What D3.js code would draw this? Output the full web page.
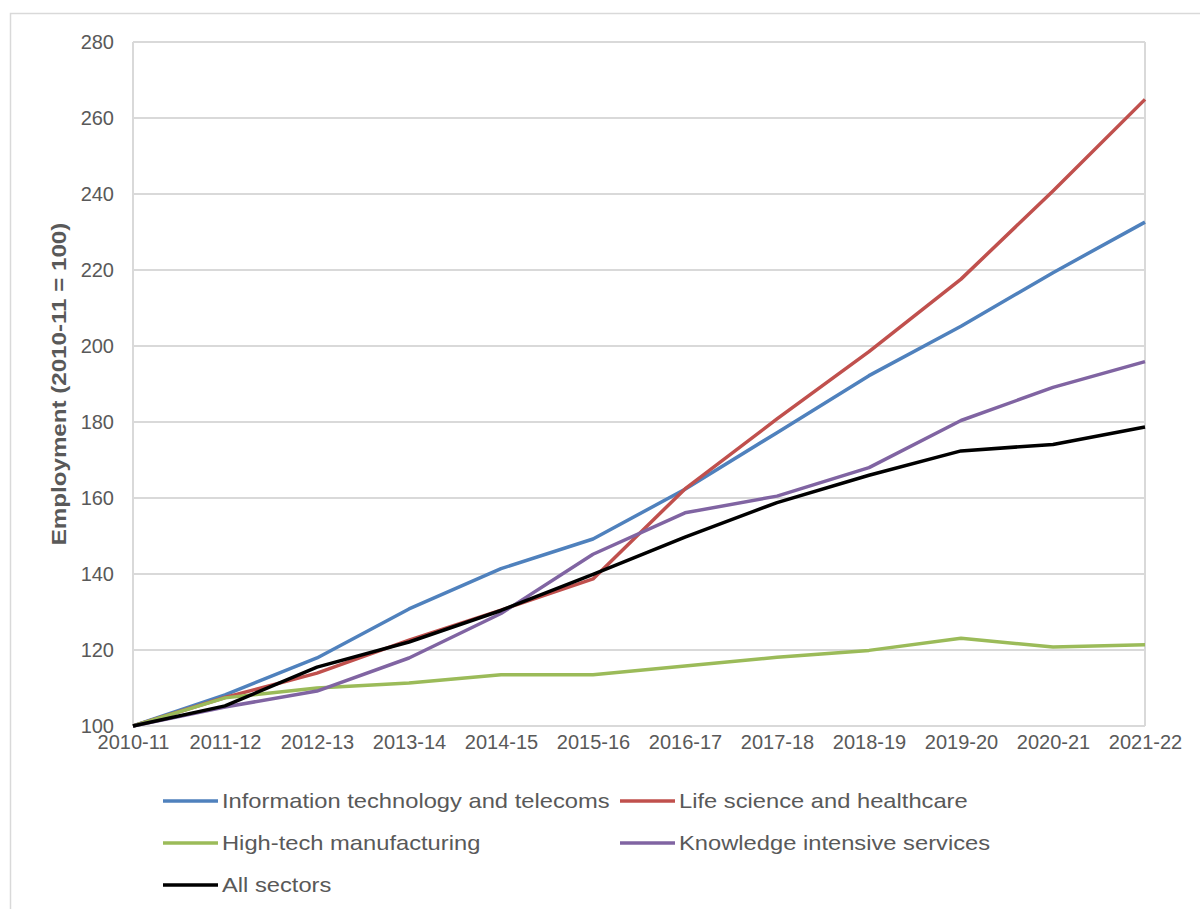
<!DOCTYPE html>
<html>
<head>
<meta charset="utf-8">
<script src="https://cdn.jsdelivr.net/npm/d3@7"></script>
<style>
  body { margin: 0; background: #fff; }
  text { font-family: Arial, "Liberation Sans", sans-serif; }
</style>
</head>
<body>
<div id="chart-area"></div>
<script>
// data
const years = ['2010-11','2011-12','2012-13','2013-14','2014-15','2015-16',
               '2016-17','2017-18','2018-19','2019-20','2020-21','2021-22']
const itTelecoms = [100,108.2,117.9,130.8,141.4,149.2,162.3,177.2,192.2,205.2,219.3,232.6]
const lifeScience = [100,107.5,113.9,122.6,130.5,138.7,162.4,180.8,198.5,217.6,240.8,264.9]
const highTech = [100,107.4,110,111.3,113.5,113.5,115.8,118.1,119.9,123.1,120.8,121.4]
const knowledge = [100,105,109.2,117.9,129.6,145.2,156.1,160.5,168,180.4,189.1,195.9]
const allSectors = [100,105.3,115.5,122.1,130.4,139.9,149.7,158.8,166,172.4,174.1,178.7]
const yTicks = [100,120,140,160,180,200,220,240,260,280]

const series = [
    {name:'Information technology and telecoms', values:itTelecoms, color:'#4F81BD'},
    {name:'Life science and healthcare', values:lifeScience, color:'#C0504D'},
    {name:'High-tech manufacturing', values:highTech, color:'#9BBB59'},
    {name:'Knowledge intensive services', values:knowledge, color:'#8064A2'},
    {name:'All sectors', values:allSectors, color:'#000000'}
]

const MARGIN = {LEFT:133, RIGHT:55, TOP:42, BOTTOM:183}
const W = 1200, H = 909
const WIDTH = W - MARGIN.LEFT - MARGIN.RIGHT
const HEIGHT = H - MARGIN.TOP - MARGIN.BOTTOM

const svg = d3.select('#chart-area').append('svg')
    .attr('width', W)
    .attr('height', H)

// outer chart border
svg.append('rect')
    .attr('x', 10.5).attr('y', 13.5)
    .attr('width', W).attr('height', H)
    .attr('fill', 'none')
    .attr('stroke', '#d9d9d9')
    .attr('stroke-width', 1.5)

const g = svg.append('g')
    .attr('transform', `translate(${MARGIN.LEFT},${MARGIN.TOP})`)

const x = d3.scalePoint()
    .domain(years)
    .range([0, WIDTH])

const y = d3.scaleLinear()
    .domain([100, 280])
    .range([HEIGHT, 0])

// gridlines
g.selectAll('.grid')
    .data(yTicks)
    .enter().append('line')
    .attr('class','grid')
    .attr('x1', 0).attr('x2', WIDTH)
    .attr('y1', d => y(d)).attr('y2', d => y(d))
    .attr('stroke', '#d9d9d9')
    .attr('stroke-width', 2)

// plot frame left / right
g.append('line').attr('x1',0).attr('x2',0).attr('y1',0).attr('y2',HEIGHT)
    .attr('stroke','#d9d9d9').attr('stroke-width',2)
g.append('line').attr('x1',WIDTH).attr('x2',WIDTH).attr('y1',0).attr('y2',HEIGHT)
    .attr('stroke','#d9d9d9').attr('stroke-width',2)

// axes
const yAxis = g.append('g')
    .call(d3.axisLeft(y).tickValues(yTicks).tickSize(0).tickPadding(19))
yAxis.select('.domain').remove()
yAxis.selectAll('text')
    .attr('fill','#595959')
    .style('font-size','20px')

const xAxis = g.append('g')
    .attr('transform', `translate(0,${HEIGHT})`)
    .call(d3.axisBottom(x).tickSize(0).tickPadding(9))
xAxis.select('.domain').remove()
xAxis.selectAll('text')
    .attr('fill','#595959')
    .style('font-size','20px')

// y axis title (the original font is a bit wider, so stretch it)
g.append('text')
    .attr('transform',`translate(${-MARGIN.LEFT + 66},${y(190)}) rotate(-90) scale(1.15,1)`)
    .attr('text-anchor','middle')
    .attr('fill','#595959')
    .style('font-size','21px')
    .style('font-weight','bold')
    .text('Employment (2010-11 = 100)')

// lines
const line = d3.line()
    .x((d,i) => x(years[i]))
    .y(d => y(d))

g.selectAll('.series')
    .data(series)
    .enter().append('path')
    .attr('class','series')
    .attr('d', d => line(d.values))
    .attr('fill','none')
    .attr('stroke', d => d.color)
    .attr('stroke-width', 3.5)
    .attr('stroke-linejoin','round')

// legend
const legend = svg.append('g')
const legendPos = [[163,801],[620,801],[163,843],[620,843],[163,885]]

const items = legend.selectAll('.item')
    .data(series)
    .enter().append('g')
    .attr('class','item')
    .attr('transform', (d,i) => `translate(${legendPos[i][0]},${legendPos[i][1]})`)

items.append('line')
    .attr('x1',0).attr('x2',55)
    .attr('stroke', d => d.color)
    .attr('stroke-width',3.5)

items.append('text')
    .attr('transform','translate(59,0) scale(1.13,1)')
    .attr('dy','0.35em')
    .attr('fill','#595959')
    .style('font-size','21px')
    .text(d => d.name)
</script>
</body>
</html>
